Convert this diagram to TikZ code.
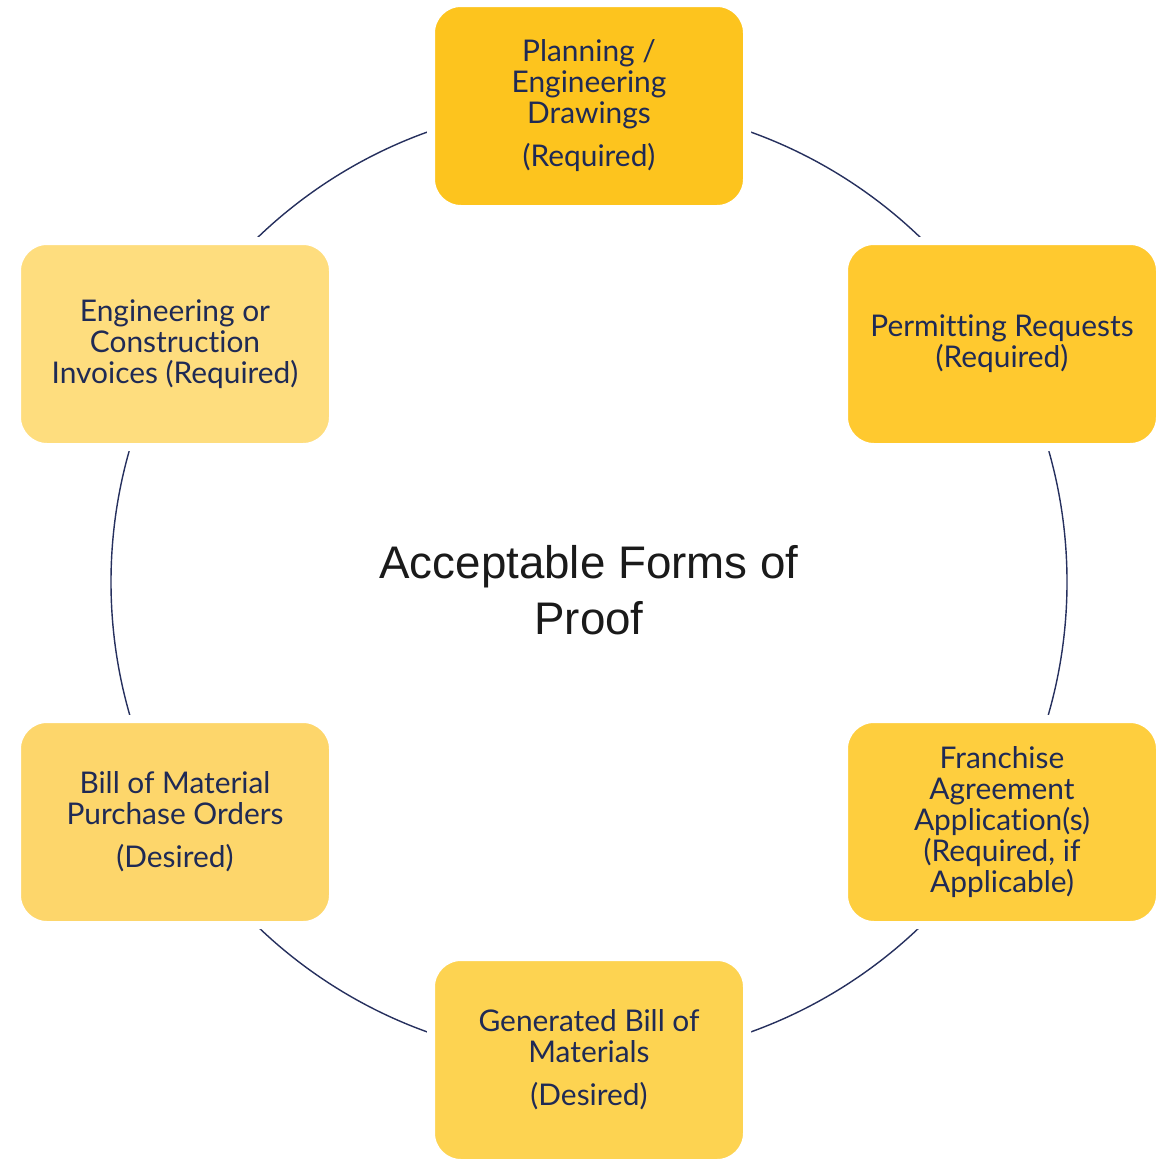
\documentclass[tikz,border=0pt]{standalone}
\usepackage{fontspec}
\setmainfont{Lato}[Ligatures=NoCommon]
\newfontfamily\titlefont{Liberation Sans}
\definecolor{textblue}{HTML}{1F2A55}
\definecolor{ringblue}{HTML}{26305E}
\definecolor{titlegray}{HTML}{1A1A1A}
\definecolor{boxa}{HTML}{FDC41E}
\definecolor{boxb}{HTML}{FFC92F}
\definecolor{boxc}{HTML}{FECE3E}
\definecolor{boxd}{HTML}{FDD351}
\definecolor{boxe}{HTML}{FDD66B}
\definecolor{boxf}{HTML}{FEDD7E}

\begin{document}
\begin{tikzpicture}[
	formbox/.style={rectangle, rounded corners=0.6cm, draw=white, line width=0.16cm,
		minimum width=6.32cm, minimum height=4.12cm, inner sep=0pt, align=center,
		text=textblue, font=\fontsize{17}{17.6}\selectfont}]
	\useasboundingbox (0,0) rectangle (23.22,-23.18);
	% ring behind the boxes
	\coordinate (mid) at (11.78,-11.64);
	\draw[ringblue, line width=0.8pt] (mid) circle (9.56cm);
	\node[text=titlegray, align=center, font=\titlefont\fontsize{26}{32}\selectfont] (title) at (11.78,-11.8) {Acceptable Forms of\\ Proof};
	% the six forms
	\node[formbox, fill=boxa] (plan) at (11.78,-2.12) {Planning /\\ Engineering\\ Drawings\\[7pt] (Required)};
	\node[formbox, fill=boxb] (permit) at (20.04,-6.88) {Permitting Requests\\ (Required)};
	\node[formbox, fill=boxc] (franchise) at (20.04,-16.44) {Franchise\\ Agreement\\ Application(s)\\ (Required, if\\ Applicable)};
	\node[formbox, fill=boxd] (genbom) at (11.78,-21.2) {Generated Bill of\\ Materials\\[7pt] (Desired)};
	\node[formbox, fill=boxe] (purchase) at (3.5,-16.44) {Bill of Material\\ Purchase Orders\\[7pt] (Desired)};
	\node[formbox, fill=boxf] (invoice) at (3.5,-6.88) {Engineering or\\ Construction\\ Invoices (Required)};
\end{tikzpicture}
\end{document}
